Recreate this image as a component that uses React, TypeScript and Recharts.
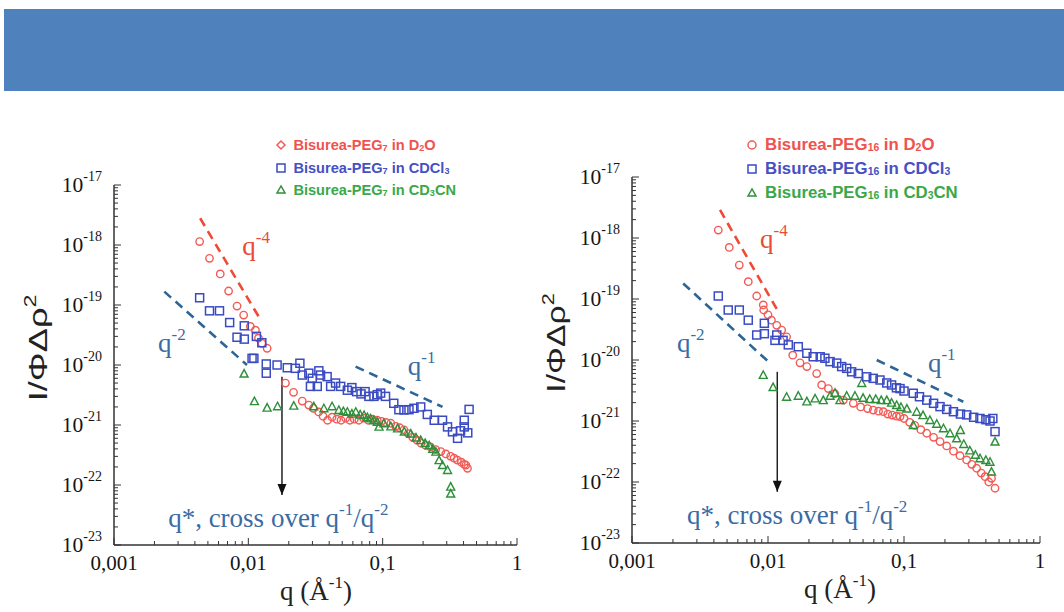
import React from 'react';
import { ScatterChart, Scatter, XAxis, YAxis, ReferenceLine, ReferenceDot } from 'recharts';

type Pt = [number, number];

// Bisurea-PEG7 (left panel), [q (1/A), I/(Phi*drho^2)]
const peg7D2O: Pt[] = [
  [0.00434, 1.14e-18], [0.00514, 6.0e-19], [0.00618, 3.3e-19], [0.00713, 1.71e-19],
  [0.00824, 9.6e-20], [0.00923, 6.8e-20], [0.01035, 4.4e-20], [0.0113, 3.8e-20],
  [0.0119, 2.8e-20], [0.0126, 2.3e-20], [0.0138, 1.9e-20], [0.0189, 5.0e-21],
  [0.0217, 3.5e-21], [0.0252, 2.5e-21], [0.0282, 2.15e-21], [0.0305, 1.9e-21],
  [0.0334, 1.65e-21], [0.036, 1.4e-21], [0.0389, 1.2e-21], [0.042, 1.35e-21],
  [0.0455, 1.25e-21], [0.049, 1.2e-21], [0.053, 1.3e-21], [0.057, 1.2e-21],
  [0.0615, 1.25e-21], [0.0665, 1.2e-21], [0.072, 1.3e-21], [0.078, 1.2e-21],
  [0.084, 1.25e-21], [0.0912, 1.2e-21], [0.098, 1.15e-21], [0.106, 1.1e-21],
  [0.115, 1.07e-21], [0.125, 9.5e-22], [0.134, 9.0e-22], [0.144, 8.3e-22],
  [0.155, 7.2e-22], [0.167, 6.3e-22], [0.18, 5.6e-22], [0.193, 5.0e-22],
  [0.208, 4.6e-22], [0.227, 4.3e-22], [0.248, 3.9e-22], [0.271, 3.6e-22],
  [0.295, 3.3e-22], [0.321, 3.0e-22], [0.34, 2.8e-22], [0.36, 2.6e-22],
  [0.385, 2.4e-22], [0.405, 2.2e-22], [0.416, 2.15e-22], [0.428, 1.9e-22],
];
const peg7CDCl3: Pt[] = [
  [0.00434, 1.32e-19], [0.00514, 8.0e-20], [0.0061, 8.0e-20], [0.00726, 5.1e-20],
  [0.00824, 2.9e-20], [0.00933, 4.5e-20], [0.00933, 2.7e-20], [0.01066, 1.29e-20],
  [0.011, 1.29e-20], [0.01148, 3.0e-20], [0.0126, 2.35e-20], [0.0136, 1.04e-20],
  [0.0136, 7.3e-21], [0.01637, 1.0e-20], [0.0195, 9.0e-21], [0.0224, 8.8e-21],
  [0.0242, 1.07e-20], [0.0252, 6.8e-21], [0.0282, 7.3e-21], [0.0299, 6.0e-21],
  [0.029, 4.4e-21], [0.0326, 4.4e-21], [0.0335, 8.0e-21], [0.0345, 6.8e-21],
  [0.0386, 6.4e-21], [0.041, 4.4e-21], [0.0446, 5.0e-21], [0.0487, 4.4e-21],
  [0.0546, 3.8e-21], [0.059, 4.2e-21], [0.064, 3.6e-21], [0.069, 3.3e-21],
  [0.074, 3.6e-21], [0.079, 3.0e-21], [0.0861, 3.0e-21], [0.0912, 3.2e-21],
  [0.0966, 3.4e-21], [0.105, 3.0e-21], [0.121, 2.3e-21], [0.132, 1.8e-21],
  [0.144, 1.78e-21], [0.157, 1.8e-21], [0.171, 1.9e-21], [0.192, 2.0e-21],
  [0.215, 1.5e-21], [0.242, 1.2e-21], [0.279, 1.2e-21], [0.304, 9.3e-22],
  [0.331, 7.7e-22], [0.361, 6.0e-22], [0.38, 8.0e-22], [0.405, 9.3e-22],
  [0.43, 7.4e-22], [0.405, 1.2e-21], [0.44, 1.82e-21],
];
const peg7CD3CN: Pt[] = [
  [0.0093, 7.2e-21], [0.0111, 2.5e-21], [0.0138, 1.95e-21], [0.0165, 2.05e-21],
  [0.0218, 2.1e-21], [0.0307, 2.05e-21], [0.0365, 1.9e-21], [0.042, 2.05e-21],
  [0.0472, 1.78e-21], [0.051, 1.7e-21], [0.0546, 1.66e-21], [0.059, 1.55e-21],
  [0.0631, 1.66e-21], [0.068, 1.5e-21], [0.0727, 1.47e-21], [0.077, 1.35e-21],
  [0.0813, 1.29e-21], [0.086, 1.2e-21], [0.0912, 1.13e-21], [0.094, 9.4e-22],
  [0.102, 1.07e-21], [0.115, 9.5e-22], [0.129, 8.8e-22], [0.145, 7.8e-22],
  [0.162, 7.2e-22], [0.177, 6.2e-22], [0.192, 5.6e-22], [0.207, 5.0e-22],
  [0.222, 4.6e-22], [0.236, 4.0e-22], [0.249, 3.6e-22], [0.263, 2.6e-22],
  [0.279, 2.15e-22], [0.304, 1.78e-22], [0.321, 9.4e-23], [0.321, 7.2e-23],
];

// Bisurea-PEG16 (right panel)
const peg16D2O: Pt[] = [
  [0.00431, 1.35e-18], [0.00519, 7.0e-19], [0.00615, 3.6e-19], [0.00716, 1.92e-19],
  [0.00826, 1.12e-19], [0.00923, 8.0e-20], [0.0093, 6.6e-20], [0.01, 5.5e-20],
  [0.0106, 4.5e-20], [0.0116, 3.7e-20], [0.0126, 3.1e-20], [0.0137, 2.4e-20],
  [0.0152, 1.2e-20], [0.0172, 9.0e-21], [0.0193, 7.8e-21], [0.0228, 6.0e-21],
  [0.0248, 3.9e-21], [0.0278, 3.4e-21], [0.031, 2.8e-21], [0.0358, 2.2e-21],
  [0.0424, 1.95e-21], [0.048, 1.7e-21], [0.054, 1.6e-21], [0.0594, 1.51e-21],
  [0.065, 1.45e-21], [0.0705, 1.42e-21], [0.076, 1.3e-21], [0.082, 1.25e-21],
  [0.088, 1.2e-21], [0.0935, 1.18e-21], [0.1, 1.1e-21], [0.11, 9.5e-22],
  [0.12, 8.5e-22], [0.133, 7.2e-22], [0.147, 6.3e-22], [0.165, 5.4e-22],
  [0.184, 4.6e-22], [0.206, 3.9e-22], [0.231, 3.2e-22], [0.258, 2.7e-22],
  [0.289, 2.3e-22], [0.315, 1.95e-22], [0.342, 1.68e-22], [0.37, 1.4e-22],
  [0.395, 1.22e-22], [0.42, 1.0e-22], [0.44, 1.15e-22], [0.467, 7.9e-23],
];
const peg16CDCl3: Pt[] = [
  [0.00431, 1.12e-19], [0.0051, 6.6e-20], [0.00615, 6.6e-20], [0.00716, 4.5e-20],
  [0.00826, 2.57e-20], [0.0094, 4.0e-20], [0.0094, 2.7e-20], [0.01125, 2.1e-20],
  [0.0116, 2.57e-20], [0.0129, 2.1e-20], [0.0141, 1.77e-20], [0.0167, 1.65e-20],
  [0.0193, 1.29e-20], [0.0215, 1.13e-20], [0.0242, 1.13e-20], [0.0262, 1.07e-20],
  [0.0286, 9.4e-21], [0.032, 8.9e-21], [0.0348, 7.8e-21], [0.0379, 7.3e-21],
  [0.0412, 6.4e-21], [0.0461, 6.0e-21], [0.0532, 5.3e-21], [0.0594, 5.0e-21],
  [0.0666, 4.7e-21], [0.0747, 4.2e-21], [0.081, 3.9e-21], [0.088, 3.5e-21],
  [0.0935, 3.4e-21], [0.1, 3.1e-21], [0.117, 2.85e-21], [0.13, 2.5e-21],
  [0.147, 2.2e-21], [0.165, 1.95e-21], [0.184, 1.72e-21], [0.206, 1.55e-21],
  [0.231, 1.42e-21], [0.26, 1.3e-21], [0.289, 1.26e-21], [0.325, 1.15e-21],
  [0.362, 1.1e-21], [0.4, 1.05e-21], [0.429, 1.0e-21], [0.45, 1.1e-21],
  [0.467, 6.7e-22],
];
const peg16CD3CN: Pt[] = [
  [0.00923, 5.7e-21], [0.0109, 3.6e-21], [0.0137, 2.5e-21], [0.0167, 2.6e-21],
  [0.0193, 2.1e-21], [0.0222, 2.35e-21], [0.0255, 2.2e-21], [0.0286, 2.6e-21],
  [0.0311, 2.9e-21], [0.0338, 2.2e-21], [0.0379, 2.6e-21], [0.0436, 2.6e-21],
  [0.0489, 4.2e-21], [0.05, 2.4e-21], [0.056, 2.3e-21], [0.062, 2.3e-21],
  [0.068, 2.2e-21], [0.0747, 2.2e-21], [0.081, 2.0e-21], [0.0883, 1.83e-21],
  [0.095, 1.7e-21], [0.105, 1.6e-21], [0.117, 8.6e-22], [0.124, 1.42e-21],
  [0.138, 1.25e-21], [0.155, 1.04e-21], [0.174, 9.0e-22], [0.195, 7.6e-22],
  [0.218, 6.3e-22], [0.244, 5.2e-22], [0.26, 7.1e-22], [0.275, 4.2e-22],
  [0.305, 3.3e-22], [0.335, 2.8e-22], [0.362, 2.45e-22], [0.4, 2.3e-22],
  [0.429, 2.15e-22], [0.44, 1.48e-22], [0.467, 4.6e-22],
];

// power-law guide segments [start, end]
const peg7Q4: Pt[] = [[0.00438, 2.79e-18], [0.01194, 6.4e-20]];
const peg7Q2: Pt[] = [[0.00237, 1.67e-19], [0.00977, 1.0e-20]];
const peg7Q1: Pt[] = [[0.0629, 9.4e-21], [0.279, 2.0e-21]];
const peg7Arrow: Pt[] = [[0.0178, 6.4e-21], [0.0178, 6.8e-23]];
const peg16Q4: Pt[] = [[0.00444, 2.88e-18], [0.0119, 6.2e-20]];
const peg16Q2: Pt[] = [[0.00238, 1.8e-19], [0.01005, 9.4e-21]];
const peg16Q1: Pt[] = [[0.063, 1.0e-20], [0.273, 2.07e-21]];
const peg16Arrow: Pt[] = [[0.0117, 6.4e-21], [0.0117, 6.9e-23]];

const xMajor = [0.001, 0.01, 0.1, 1];
const xMajorLabels = ['0,001', '0,01', '0,1', '1'];
const yMajor = [1e-23, 1e-22, 1e-21, 1e-20, 1e-19, 1e-18, 1e-17];
const yMajorExp = ['-23', '-22', '-21', '-20', '-19', '-18', '-17'];
const minorSteps = [2, 3, 4, 5, 6, 7, 8, 9];

const xTicks = [...xMajor, ...xMajor.slice(0, -1).flatMap((d) => minorSteps.map((m) => d * m))];
const yTicks = [...yMajor, ...yMajor.slice(0, -1).flatMap((d) => minorSteps.map((m) => d * m))];

const SERIF = '"Liberation Serif", "Times New Roman", serif';
const SANS = '"Liberation Sans", Arial, sans-serif';
const RED = '#f25a55';
const BLUE = '#3a4bc2';
const GREEN = '#2e8f3a';
const GUIDE_RED = '#f04a36';
const GUIDE_BLUE = '#2c6596';
const NOTE_BLUE = '#3a6ba3';

const majorIndex = (v: number, majors: number[]) =>
  majors.findIndex((m) => Math.abs(v / m - 1) < 1e-6);

const XTick = (props: any) => {
  const { x, y, payload } = props;
  const i = majorIndex(payload.value, xMajor);
  return (
    <g>
      <line x1={x} x2={x} y1={y} y2={y - (i >= 0 ? 7 : 4)} stroke="#333" strokeWidth={1} />
      {i >= 0 && (
        <text x={x} y={y + 25} textAnchor="middle" fontFamily={SERIF} fontSize={21} fill="#151515">
          {xMajorLabels[i]}
        </text>
      )}
    </g>
  );
};

const YTick = (props: any) => {
  const { x, y, payload } = props;
  const i = majorIndex(payload.value, yMajor);
  return (
    <g>
      <line x1={x} x2={x + (i >= 0 ? 7 : 4)} y1={y} y2={y} stroke="#333" strokeWidth={1} />
      {i >= 0 && (
        <text x={x - 12} y={y + 7} textAnchor="end" fontFamily={SERIF} fill="#151515">
          <tspan fontSize={21.5}>10</tspan>
          <tspan fontSize={14} dy={-11}>{yMajorExp[i]}</tspan>
        </text>
      )}
    </g>
  );
};

const circleShape = (props: any) => (
  <circle cx={props.cx} cy={props.cy} r={3.7} fill="none" stroke={RED} strokeWidth={1.4} />
);
const squareShape = (props: any) => (
  <rect x={props.cx - 4} y={props.cy - 4} width={8} height={8} fill="none" stroke={BLUE} strokeWidth={1.5} />
);
const triangleShape = (props: any) => (
  <polygon
    points={`${props.cx},${props.cy - 4} ${props.cx - 4},${props.cy + 3.5} ${props.cx + 4},${props.cy + 3.5}`}
    fill="none"
    stroke={GREEN}
    strokeWidth={1.4}
  />
);

const powerLabel = (sup: string, color: string) => (props: any) => (
  <text x={props.cx} y={props.cy} fill={color} fontFamily={SERIF} fontSize={27}>
    q<tspan fontSize={17} dy={-12}>{sup}</tspan>
  </text>
);

const crossLabel = (props: any) => (
  <text x={props.cx} y={props.cy} fill={NOTE_BLUE} fontFamily={SERIF} fontSize={27}>
    q*, cross over q<tspan fontSize={17} dy={-12}>-1</tspan>
    <tspan dy={12}>/q</tspan>
    <tspan fontSize={17} dy={-12}>-2</tspan>
  </text>
);

const arrowHead = (props: any) => (
  <polygon
    points={`${props.cx - 4.5},${props.cy - 11} ${props.cx + 4.5},${props.cy - 11} ${props.cx},${props.cy}`}
    fill="#111"
  />
);

const toData = (pts: Pt[]) => pts.map(([q, I]) => ({ q, I }));
const seg = (pts: Pt[]) => pts.map(([x, y]) => ({ x, y }));

interface PanelProps {
  left: number;
  width: number;
  margin: { top: number; right: number; bottom: number; left: number };
  peg: string;
  d2o: Pt[];
  cdcl3: Pt[];
  cd3cn: Pt[];
  q4: Pt[];
  q2: Pt[];
  q1: Pt[];
  arrow: Pt[];
  q4At: Pt;
  q2At: Pt;
  q1At: Pt;
  crossAt: Pt;
  legend: { x: number; y: number; gap: number; size: number; diamond: boolean };
  yTitle: { x: number; y: number; stretch: number };
  xTitle: { x: number; y: number };
}

const TOP = 100;
const HEIGHT = 512;

const Sub = ({ children }: { children: React.ReactNode }) => (
  <span style={{ fontSize: '0.62em', verticalAlign: '-0.08em' }}>{children}</span>
);

const Panel: React.FC<PanelProps> = (p) => {
  const rows = [
    { color: RED, text: '#f0524e', solvent: <>D<Sub>2</Sub>O</>, mark: p.legend.diamond ? 'diamond' : 'circle' },
    { color: BLUE, text: '#4650c4', solvent: <>CDCl<Sub>3</Sub></>, mark: 'square' },
    { color: GREEN, text: '#3aa848', solvent: <>CD<Sub>3</Sub>CN</>, mark: 'triangle' },
  ];
  const dash = { strokeDasharray: '9 6', strokeWidth: 2.6 };
  return (
    <div style={{ position: 'absolute', left: p.left, top: TOP, width: p.width, height: HEIGHT }}>
      <ScatterChart width={p.width} height={HEIGHT} margin={p.margin}>
        <XAxis
          type="number"
          dataKey="q"
          scale="log"
          domain={[0.001, 1]}
          allowDataOverflow
          ticks={xTicks}
          interval={0}
          height={1}
          tickSize={0}
          tickMargin={0}
          tickLine={false}
          axisLine={{ stroke: '#333', strokeWidth: 1.5 }}
          tick={<XTick />}
        />
        <YAxis
          type="number"
          dataKey="I"
          scale="log"
          domain={[1e-23, 1e-17]}
          allowDataOverflow
          ticks={yTicks}
          interval={0}
          width={1}
          tickSize={0}
          tickMargin={0}
          tickLine={false}
          axisLine={{ stroke: '#333', strokeWidth: 1.5 }}
          tick={<YTick />}
        />
        <ReferenceLine segment={seg(p.q4)} stroke={GUIDE_RED} {...dash} />
        <ReferenceLine segment={seg(p.q2)} stroke={GUIDE_BLUE} {...dash} />
        <ReferenceLine segment={seg(p.q1)} stroke={GUIDE_BLUE} {...dash} />
        <Scatter data={toData(p.d2o)} shape={circleShape} isAnimationActive={false} />
        <Scatter data={toData(p.cd3cn)} shape={triangleShape} isAnimationActive={false} />
        <Scatter data={toData(p.cdcl3)} shape={squareShape} isAnimationActive={false} />
        <ReferenceLine segment={seg(p.arrow)} stroke="#222" strokeWidth={1.5} />
        <ReferenceDot x={p.arrow[1][0]} y={p.arrow[1][1]} shape={arrowHead} />
        <ReferenceDot x={p.q4At[0]} y={p.q4At[1]} shape={powerLabel('-4', '#ea4a36')} />
        <ReferenceDot x={p.q2At[0]} y={p.q2At[1]} shape={powerLabel('-2', NOTE_BLUE)} />
        <ReferenceDot x={p.q1At[0]} y={p.q1At[1]} shape={powerLabel('-1', NOTE_BLUE)} />
        <ReferenceDot x={p.crossAt[0]} y={p.crossAt[1]} shape={crossLabel} />
      </ScatterChart>
      <svg
        width={p.width}
        height={HEIGHT}
        style={{ position: 'absolute', left: 0, top: 0, pointerEvents: 'none' }}
      >
        <text
          transform={`translate(${p.yTitle.x},${p.yTitle.y}) rotate(-90) scale(${p.yTitle.stretch},1)`}
          textAnchor="middle"
          fontFamily={SANS}
          fontSize={25}
          fill="#222"
        >
          I/ΦΔρ<tspan fontSize={16} dy={-11}>2</tspan>
        </text>
        <text x={p.xTitle.x} y={p.xTitle.y} textAnchor="middle" fontFamily={SERIF} fontSize={27} fill="#222">
          q (Å<tspan fontSize={17} dy={-12}>-1</tspan>
          <tspan dy={12}>)</tspan>
        </text>
      </svg>
      {rows.map((r, i) => (
        <div
          key={i}
          style={{
            position: 'absolute',
            left: p.legend.x - 8,
            top: p.legend.y + i * p.legend.gap - 12,
            height: 24,
            display: 'flex',
            alignItems: 'center',
            whiteSpace: 'nowrap',
            fontFamily: SANS,
            fontWeight: 700,
            fontSize: p.legend.size,
            color: r.text,
          }}
        >
          <svg width={16} height={16} style={{ marginRight: p.legend.size * 0.3 }}>
            {r.mark === 'diamond' && (
              <polygon points="8,4 12,8 8,12 4,8" fill="none" stroke={r.color} strokeWidth={1.5} />
            )}
            {r.mark === 'circle' && <circle cx={8} cy={8} r={4} fill="none" stroke={r.color} strokeWidth={1.5} />}
            {r.mark === 'square' && <rect x={4} y={4} width={8} height={8} fill="none" stroke={r.color} strokeWidth={1.5} />}
            {r.mark === 'triangle' && (
              <polygon points="8,4 4,11 12,11" fill="none" stroke={r.color} strokeWidth={1.5} />
            )}
          </svg>
          <span>
            Bisurea-PEG<Sub>{p.peg}</Sub> in {r.solvent}
          </span>
        </div>
      ))}
    </div>
  );
};

const App: React.FC = () => {
  return (
    <div style={{ position: 'absolute', left: 0, top: 0, width: 1064, height: 612, background: '#fff', overflow: 'hidden' }}>
      <div style={{ position: 'absolute', left: 4, top: 9, width: 1060, height: 82, background: '#4f81bd' }} />
      <Panel
        left={0}
        width={530}
        margin={{ top: 85, right: 13, bottom: 66, left: 113 }}
        peg="7"
        d2o={peg7D2O}
        cdcl3={peg7CDCl3}
        cd3cn={peg7CD3CN}
        q4={peg7Q4}
        q2={peg7Q2}
        q1={peg7Q1}
        arrow={peg7Arrow}
        q4At={[0.00901, 6.8e-19]}
        q2At={[0.00213, 1.65e-20]}
        q1At={[0.154, 6.8e-21]}
        crossAt={[0.00253, 2.0e-23]}
        legend={{ x: 281, y: 45, gap: 22.5, size: 14.6, diamond: true }}
        yTitle={{ x: 47, y: 248, stretch: 1.45 }}
        xTitle={{ x: 316, y: 500 }}
      />
      <Panel
        left={530}
        width={534}
        margin={{ top: 77, right: 24, bottom: 68, left: 101 }}
        peg="16"
        d2o={peg16D2O}
        cdcl3={peg16CDCl3}
        cd3cn={peg16CD3CN}
        q4={peg16Q4}
        q2={peg16Q2}
        q1={peg16Q1}
        arrow={peg16Arrow}
        q4At={[0.00873, 6.9e-19]}
        q2At={[0.00214, 1.35e-20]}
        q1At={[0.15, 6.4e-21]}
        crossAt={[0.00254, 2.05e-23]}
        legend={{ x: 222, y: 45, gap: 24, size: 16.8, diamond: false }}
        yTitle={{ x: 35, y: 243, stretch: 1.35 }}
        xTitle={{ x: 310, y: 498 }}
      />
    </div>
  );
};

export default App;
